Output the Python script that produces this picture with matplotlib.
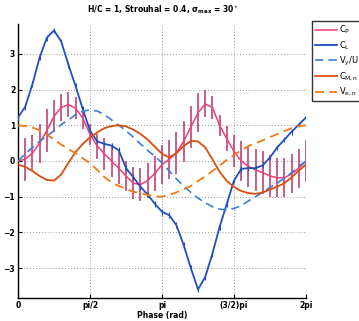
import numpy as np
import matplotlib
matplotlib.use("Agg")
import matplotlib.pyplot as plt

plt.rcParams['mathtext.default'] = 'regular'
plt.rcParams['font.family'] = ['DejaVu Sans']

# Phase samples over one cycle (41 points, 0 .. 2pi)
phase = np.linspace(0, 2 * np.pi, 41)

# Power coefficient with its scatter
cp = [0.0, 0.05, 0.22, 0.5, 0.85, 1.25, 1.5, 1.58, 1.48, 1.2,
      0.75, 0.42, 0.2, 0.0, -0.2, -0.42, -0.62, -0.66, -0.55, -0.35,
      -0.1, 0.05, 0.22, 0.55, 0.95, 1.35, 1.6, 1.5, 1.0, 0.62,
      0.27, 0.0, -0.15, -0.25, -0.33, -0.42, -0.47, -0.47, -0.36, -0.2, 0.0]
cp_err = [0.6, 0.6, 0.5, 0.55, 0.6, 0.45, 0.38, 0.35, 0.3, 0.3,
          0.3, 0.35, 0.45, 0.46, 0.44, 0.42, 0.45, 0.45, 0.48, 0.5,
          0.55, 0.55, 0.58, 0.58, 0.58, 0.55, 0.38, 0.32, 0.3, 0.35,
          0.45, 0.55, 0.58, 0.6, 0.6, 0.58, 0.55, 0.55, 0.55, 0.55, 0.6]

# Lift coefficient with its scatter
cl = [1.22, 1.52, 2.15, 2.9, 3.45, 3.66, 3.35, 2.7, 2.1, 1.45,
      0.85, 0.55, 0.48, 0.43, 0.3, -0.2, -0.45, -0.72, -0.94, -1.2,
      -1.42, -1.52, -1.8, -2.35, -3.0, -3.6, -3.25, -2.6, -1.85, -1.2,
      -0.55, -0.22, -0.2, -0.2, -0.12, 0.1, 0.38, 0.6, 0.82, 1.02, 1.22]
cl_err = [0.08] * 41

# Heave velocity ratio
vy_u = [0.0, 0.2, 0.38, 0.55, 0.7, 0.85, 1.02, 1.15, 1.3, 1.4,
        1.43, 1.4, 1.3, 1.15, 1.0, 0.85, 0.67, 0.48, 0.3, 0.13,
        -0.05, -0.28, -0.5, -0.7, -0.88, -1.04, -1.17, -1.28, -1.35, -1.37,
        -1.33, -1.25, -1.12, -1.0, -0.87, -0.74, -0.62, -0.48, -0.33, -0.15, 0.0]

# Moment coefficient
cm = [-0.1, -0.16, -0.28, -0.42, -0.53, -0.55, -0.38, -0.05, 0.25, 0.48,
      0.66, 0.8, 0.92, 0.98, 1.0, 0.97, 0.88, 0.76, 0.6, 0.4,
      0.2, 0.1, 0.22, 0.42, 0.56, 0.55, 0.38, 0.05, -0.3, -0.56,
      -0.73, -0.84, -0.9, -0.92, -0.88, -0.8, -0.72, -0.62, -0.46, -0.27, -0.1]

# Effective velocity
ve = [1.0, 0.98, 0.94, 0.86, 0.74, 0.6, 0.46, 0.33, 0.22, 0.08,
      -0.06, -0.25, -0.45, -0.6, -0.7, -0.78, -0.86, -0.9, -0.95, -0.99,
      -1.0, -0.95, -0.88, -0.8, -0.7, -0.56, -0.43, -0.28, -0.13, 0.03,
      0.17, 0.3, 0.42, 0.5, 0.58, 0.67, 0.75, 0.84, 0.92, 0.98, 1.0]

xtick_vals = [0, np.pi / 2, np.pi, 3 * np.pi / 2, 2 * np.pi]
xtick_labels = ['0', 'pi/2', 'pi', '(3/2)pi', '2pi']
ytick_vals = [-3, -2, -1, 0, 1, 2, 3]

fig = plt.figure(figsize=(3.59, 3.21), dpi=100)
ax = fig.add_axes([18 / 359, 1 - 298 / 321, 288 / 359, 274 / 321])

c_pink = '#ee3d78'
c_bar = '#b8356e'
c_blue = '#1f4fc0'
c_blue2 = '#3b7fd4'
c_orange = '#dc4d0c'
c_orange2 = '#f5780f'

ax.errorbar(phase, cp, yerr=cp_err, fmt='none', ecolor=c_bar, elinewidth=1.3,
            alpha=0.85, capsize=0, zorder=2)
ax.errorbar(phase, cl, yerr=cl_err, fmt='none', ecolor=c_blue, elinewidth=0.8,
            capsize=0, zorder=3)

l1, = ax.plot(phase, cp, color=c_pink, lw=1.1, zorder=4, label='$C_P$')
l2, = ax.plot(phase, cl, color=c_blue, lw=1.3, zorder=4, label='$C_L$')
l3, = ax.plot(phase, vy_u, color=c_blue2, lw=1.2, ls=(0, (5, 3)), zorder=4,
              label='$V_y/U$')
l4, = ax.plot(phase, cm, color=c_orange, lw=1.3, zorder=4, label='$C_{M,n}$')
l5, = ax.plot(phase, ve, color=c_orange2, lw=1.3, ls=(0, (5, 3)), zorder=4,
              label='$V_{e,n}$')

ax.set_xlim(0, 2 * np.pi)
ax.set_ylim(-3.84, 3.84)
ax.set_xticks(xtick_vals)
ax.set_xticklabels(xtick_labels)
ax.set_yticks(ytick_vals)
ax.tick_params(direction='in', length=3, width=0.8, labelsize=5.5, pad=2)
for lab in ax.get_xticklabels() + ax.get_yticklabels():
    lab.set_fontweight('bold')
ax.grid(True, ls=(0, (1, 2.5)), color='#777777', lw=0.6)
ax.set_axisbelow(True)
for side in ('top', 'right'):
    ax.spines[side].set_visible(False)
for side in ('left', 'bottom'):
    ax.spines[side].set_linewidth(1.0)

ax.set_xlabel('Phase (rad)', fontsize=5.5, fontweight='bold', labelpad=1)
ax.set_title(r'H/C = 1, Strouhal = 0.4, $\sigma_{max}$ = 30$^{\circ}$',
             fontsize=5.5, fontweight='bold', pad=8)

leg = fig.legend(handles=[l1, l2, l3, l4, l5], loc='upper left',
                 bbox_to_anchor=(312 / 359, 1 - 21 / 321), fontsize=6,
                 frameon=True, fancybox=False, edgecolor='black',
                 handlelength=2.6, handletextpad=0.3, borderpad=0.35,
                 labelspacing=0.35, borderaxespad=0)
leg.get_frame().set_linewidth(1.0)

fig.savefig('out.png', dpi=100)
